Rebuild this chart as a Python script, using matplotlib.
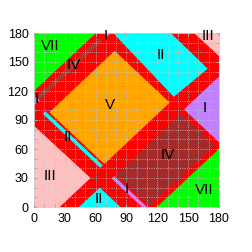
import numpy as np
import matplotlib.pyplot as plt

# region polygons (data coords, degrees)
green_tl = [(0, 120), (0, 180), (60, 180)]
green_br = [(120, 0), (180, 0), (180, 60)]
pink_tr = [(156, 180), (180, 180), (180, 156)]
pink_bl = [(0, 0), (25, 0), (55, 30), (0, 84)]
orange_v = [(15, 98), (78.5, 161.5), (132, 108), (68.5, 44.5)]
brown_iv = [(79.5, 33.5), (143, 97), (176, 64), (112.5, 0.5)]
brown_strip = [(5.5, 110.5), (66.5, 171.5), (63, 175), (2, 114)]
cyan_top = [(77, 180), (133, 180), (169, 143), (136, 114)]
cyan_bot = [(44, 0), (64, 20), (84, 0)]
cyan_strip = [(11, 99), (67, 43), (64.5, 40.5), (8.5, 96.5)]
purple_r = [(146, 101), (180, 135), (180, 67)]
purple_strip = [(78, 32), (110, 0), (105, 0), (75.5, 29.5)]
purple_l = [(0, 105), (5.5, 110.5), (2, 114), (0, 112)]
purple_t = [(70.5, 175.5), (75, 180), (68, 180)]

regions = [
    (green_tl, '#00ff00'), (green_br, '#00ff00'),
    (pink_tr, '#ffc0c0'), (pink_bl, '#ffc0c0'),
    (orange_v, '#ffa500'), (brown_iv, '#a52a2a'), (brown_strip, '#a83a30'),
    (cyan_top, '#00ffff'), (cyan_bot, '#00ffff'), (cyan_strip, '#00ffff'),
    (purple_r, '#c080ff'), (purple_strip, '#c080ff'),
    (purple_l, '#c080ff'), (purple_t, '#c080ff'),
]

# labels
lab_text = ['VII', 'IV', 'I', 'II', 'III', 'I', 'V', 'I', 'II', 'IV', 'III', 'I', 'II', 'VII']
lab_x = [16, 39, 70, 123, 169, 3, 74, 166, 33, 130, 16, 90, 63, 166]
lab_y = [167, 147, 177, 157, 177, 112, 106, 102, 72, 54, 32, 19, 8, 18]

plt.rcParams['font.family'] = ['Liberation Sans', 'DejaVu Sans']
fig = plt.figure(figsize=(2.52, 2.52), dpi=100)
ax = fig.add_axes([34/252, 45/252, 185/252, 174/252])
ax.set_facecolor('red')

for poly, col in regions:
    p = np.array(poly)
    ax.fill(p[:, 0], p[:, 1], color=col, lw=0)

for t, x, y in zip(lab_text, lab_x, lab_y):
    ax.text(x, y, t, ha='center', va='center', fontsize=11)

ax.set_xlim(0, 180)
ax.set_ylim(0, 180)
ax.set_xticks(np.arange(0, 181, 30))
ax.set_yticks(np.arange(0, 181, 30))
ax.set_xticks(np.arange(0, 181, 10), minor=True)
ax.set_yticks(np.arange(0, 181, 10), minor=True)
ax.grid(True, which='both', color='#c8c8c8', linestyle=':', linewidth=0.6)
ax.set_axisbelow(False)
ax.tick_params(which='both', direction='in', length=2, color='#aaaaaa', labelsize=9,
               top=True, right=True, pad=4)
for s in ax.spines.values():
    s.set_color('#cccccc')
    s.set_linewidth(0.6)

fig.savefig('out.png', dpi=100)
